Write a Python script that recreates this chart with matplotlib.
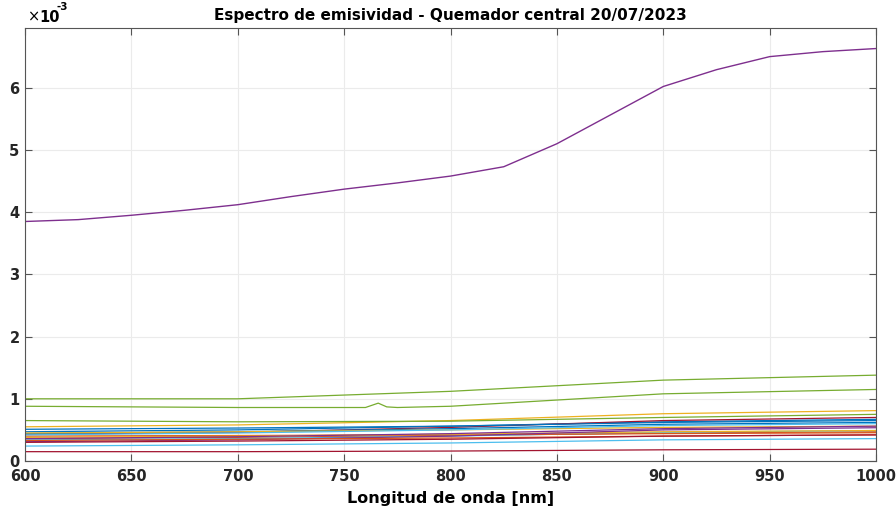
import matplotlib
matplotlib.use("Agg")
import matplotlib.pyplot as plt

wl = [600, 700, 800, 900, 1000]
wl_big = [600, 625, 650, 675, 700, 725, 750, 775, 800, 825, 850, 875, 900, 925, 950, 975, 1000]
wl_bump = [600, 700, 760, 766, 770, 775, 800, 900, 1000]

# emissivity readings (x1e-3)
big_purple = [3.85, 3.88, 3.95, 4.03, 4.12, 4.25, 4.37, 4.47, 4.58, 4.73, 5.10, 5.56, 6.02, 6.29, 6.50, 6.58, 6.63]
green_top = [1.00, 1.00, 1.12, 1.30, 1.38]
green_bump = [0.88, 0.86, 0.86, 0.93, 0.87, 0.86, 0.88, 1.08, 1.15]

series = [
    ("#0072BD", [0.47, 0.50, 0.56, 0.63, 0.67]),
    ("#D95319", [0.36, 0.38, 0.41, 0.45, 0.47]),
    ("#EDB120", [0.55, 0.58, 0.65, 0.76, 0.81]),
    ("#4DBEEE", [0.34, 0.36, 0.40, 0.46, 0.49]),
    ("#A2142F", [0.43, 0.46, 0.54, 0.65, 0.70]),
    ("#0072BD", [0.51, 0.53, 0.56, 0.62, 0.65]),
    ("#D95319", [0.40, 0.41, 0.42, 0.44, 0.455]),
    ("#EDB120", [0.38, 0.40, 0.43, 0.47, 0.49]),
    ("#7E2F8E", [0.31, 0.34, 0.40, 0.50, 0.535]),
    ("#4DBEEE", [0.24, 0.26, 0.29, 0.34, 0.36]),
    ("#A2142F", [0.15, 0.15, 0.16, 0.18, 0.19]),
    ("#0072BD", [0.44, 0.47, 0.52, 0.59, 0.62]),
    ("#D95319", [0.33, 0.35, 0.37, 0.40, 0.42]),
    ("#EDB120", [0.45, 0.47, 0.50, 0.54, 0.56]),
    ("#7E2F8E", [0.36, 0.39, 0.44, 0.52, 0.56]),
    ("#77AC30", [0.65, 0.63, 0.64, 0.70, 0.75]),
    ("#4DBEEE", [0.42, 0.45, 0.50, 0.57, 0.60]),
    ("#A2142F", [0.30, 0.32, 0.35, 0.40, 0.42]),
]

fig = plt.figure(figsize=(8.96, 5.12), dpi=100)
ax = fig.add_axes([0.028, 0.0996, 0.9497, 0.8457])

lw = 0.9
for color, vals in series:
    ax.plot(wl, [v * 1e-3 for v in vals], color=color, lw=lw)
ax.plot(wl, [v * 1e-3 for v in green_top], color="#77AC30", lw=lw)
ax.plot(wl_bump, [v * 1e-3 for v in green_bump], color="#77AC30", lw=lw)
ax.plot(wl_big, [v * 1e-3 for v in big_purple], color="#7E2F8E", lw=1.0)

ax.set_xlim(600, 1000)
ax.set_ylim(0, 6.96e-3)
ax.set_xticks(range(600, 1001, 50))
ax.set_yticks([i * 1e-3 for i in range(7)])
ax.set_yticklabels([str(i) for i in range(7)])
ax.grid(True, color="#ebebeb", lw=0.8)
ax.set_axisbelow(True)
ax.tick_params(direction="in", length=5, color="#555555", labelsize=10.5,
               top=True, right=True)
ax.tick_params(axis="x", pad=6)
ax.tick_params(axis="y", pad=4)
for lab in ax.get_xticklabels() + ax.get_yticklabels():
    lab.set_fontweight("bold")
    lab.set_color("#262626")
for sp in ax.spines.values():
    sp.set_color("#555555")
    sp.set_linewidth(0.8)

ax.set_title("Espectro de emisividad - Quemador central 20/07/2023",
             fontsize=11, fontweight="bold", pad=6)
ax.set_xlabel("Longitud de onda [nm]", fontsize=11.5, fontweight="bold", labelpad=5)

# MATLAB style exponent label
ax.text(0.003, 1.008, "\u00d7", transform=ax.transAxes, fontsize=10.5, ha="left", va="bottom")
ax.text(0.0165, 1.008, "10", transform=ax.transAxes, fontsize=10.5, fontweight="bold",
        ha="left", va="bottom")
ax.text(0.0375, 1.036, "-3", transform=ax.transAxes, fontsize=7.5, fontweight="bold",
        ha="left", va="bottom")

fig.savefig("out.png", dpi=100)
